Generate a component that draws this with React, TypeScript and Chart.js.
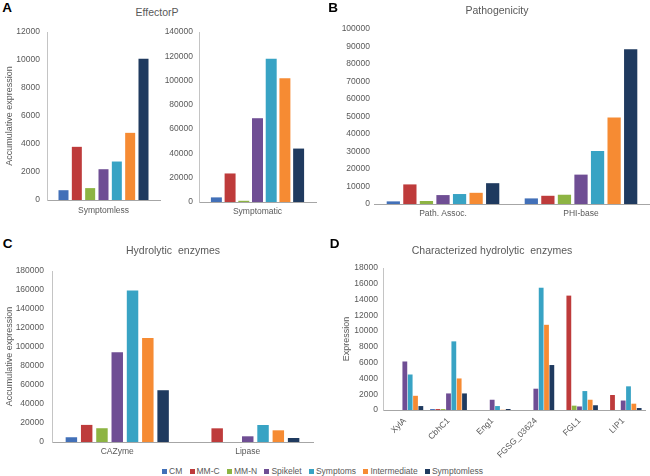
import React, { useEffect, useRef } from "react";
import { Chart, registerables } from "chart.js";

Chart.register(...registerables);

const FONT = "'Liberation Sans', Arial, sans-serif";
const TEXT = "#595959";

const SERIES = ["CM", "MM-C", "MM-N", "Spikelet", "Symptoms", "Intermediate", "Symptomless"];
const COLORS = ["#4270B8", "#BE3B3B", "#8DB443", "#6F4E94", "#38A3C4", "#F68B33", "#1F3A5F"];

// Panel A (EffectorP) – values per series
const effectorLeftCats = ["Symptomless"];
const effectorSymptomless = [700, 3800, 850, 2200, 2750, 4800, 10100];
const effectorRightCats = ["Symptomatic"];
const effectorSymptomatic = [3800, 23500, 1000, 69000, 118000, 102000, 44000];
const effectorLeftTicks = { max: 12000, step: 2000 };
const effectorRightTicks = { max: 140000, step: 20000 };

// Panel B (Pathogenicity)
const pathCats = ["Path. Assoc.", "PHI-base"];
const pathAssoc = [1500, 11200, 1700, 5100, 5700, 6400, 11900];
const phiBase = [3200, 4700, 5300, 16800, 30300, 49500, 88500];
const pathTicks = { max: 100000, step: 10000 };

// Panel C (Hydrolytic enzymes)
const hydroCats = ["CAZyme", "Lipase"];
const cazyme = [5000, 18000, 14500, 94500, 159500, 109500, 54500];
const lipase = [0, 14400, 0, 6000, 17900, 12300, 4200];
const hydroTicks = { max: 180000, step: 20000 };

// Panel D (Characterized hydrolytic enzymes)
const enzymeCats = ["XylA", "CbhC1", "Eng1", "FGSG_03624", "FGL1", "LIP1"];
const xylA = [0, 0, 0, 6150, 4500, 1800, 500];
const cbhC1 = [120, 120, 120, 2100, 8700, 4000, 2100];
const eng1 = [0, 0, 0, 1300, 500, 30, 130];
const fgsg03624 = [0, 0, 0, 2700, 15500, 10800, 5700];
const fgl1 = [0, 14500, 550, 450, 2400, 1300, 600];
const lip1 = [0, 1900, 0, 1200, 3000, 800, 250];
const enzymeTicks = { max: 18000, step: 2000 };

type PanelProps = {
  categories: string[];
  values: number[][];
  left: number;
  top: number;
  width: number;
  height: number;
  yW: number;
  xH: number;
  padTop: number;
  padRight: number;
  yMax: number;
  yStep: number;
  catPct: number;
  barPct: number;
  yPad: number;
  xPad: number;
  yBorder?: boolean;
  yTitle?: string;
  titlePad?: number;
  rot?: number;
};

function BarPanel(p: PanelProps) {
  const ref = useRef<HTMLCanvasElement>(null);
  useEffect(() => {
    const datasets = SERIES.map((name, i) => ({
      label: name,
      data: p.values.map((row) => row[i]),
      backgroundColor: COLORS[i],
      borderWidth: 0,
      categoryPercentage: p.catPct,
      barPercentage: p.barPct,
    }));
    const rot = p.rot ?? 0;
    const chart = new Chart(ref.current as HTMLCanvasElement, {
      type: "bar",
      data: { labels: p.categories, datasets },
      options: {
        animation: false,
        responsive: false,
        devicePixelRatio: 1,
        layout: { padding: { left: 0, top: p.padTop, right: p.padRight, bottom: 0 } },
        plugins: { legend: { display: false }, tooltip: { enabled: false } },
        scales: {
          x: {
            grid: { display: false, drawTicks: false },
            border: { display: true, color: "#A6A6A6", width: 1 },
            ticks: {
              color: TEXT,
              font: { family: FONT, size: 8.5 },
              padding: p.xPad,
              autoSkip: false,
              minRotation: rot,
              maxRotation: rot,
            },
            afterFit: (s: any) => {
              s.height = p.xH;
            },
          },
          y: {
            min: 0,
            max: p.yMax,
            grid: { display: false, drawTicks: false },
            border: { display: p.yBorder !== false, color: "#C4C4C4", width: 1 },
            ticks: {
              stepSize: p.yStep,
              color: TEXT,
              font: { family: FONT, size: 8.5 },
              padding: p.yPad,
              callback: (v: any) => String(v),
            },
            title: p.yTitle
              ? {
                  display: true,
                  text: p.yTitle,
                  color: TEXT,
                  font: { family: FONT, size: 9 },
                  padding: { top: p.titlePad ?? 4, bottom: 0 },
                }
              : { display: false },
            afterFit: (s: any) => {
              s.width = p.yW;
            },
          },
        },
      } as any,
    });
    return () => chart.destroy();
  }, []);
  return (
    <canvas
      ref={ref}
      width={p.width}
      height={p.height}
      style={{ position: "absolute", left: p.left, top: p.top, width: p.width, height: p.height }}
    />
  );
}

function Label(props: { x: number; y: number; text: string; size: number; bold?: boolean; color?: string }) {
  return (
    <div
      style={{
        position: "absolute",
        left: props.x,
        top: props.y,
        transform: "translate(-50%, -50%)",
        fontFamily: FONT,
        fontSize: props.size,
        fontWeight: props.bold ? "bold" : "normal",
        color: props.color ?? TEXT,
        whiteSpace: "pre",
        lineHeight: 1,
      }}
    >
      {props.text}
    </div>
  );
}

export default function App() {
  return (
    <div style={{ position: "absolute", left: 0, top: 0, width: 650, height: 476, background: "#fff", overflow: "hidden" }}>
      <BarPanel
        categories={effectorLeftCats}
        values={[effectorSymptomless]}
        left={0} top={20} width={165} height={205}
        yW={47} xH={25} padTop={10} padRight={5}
        yMax={effectorLeftTicks.max} yStep={effectorLeftTicks.step}
        catPct={0.826} barPct={0.75} yPad={7} xPad={6}
        yTitle="Accumulative expression" titlePad={4.6}
      />
      <BarPanel
        categories={effectorRightCats}
        values={[effectorSymptomatic]}
        left={160} top={20} width={160} height={205}
        yW={39} xH={23} padTop={12} padRight={4}
        yMax={effectorRightTicks.max} yStep={effectorRightTicks.step}
        catPct={0.82} barPct={0.8} yPad={6} xPad={4.2}
      />
      <BarPanel
        categories={pathCats}
        values={[pathAssoc, phiBase]}
        left={320} top={20} width={330} height={205}
        yW={54} xH={21} padTop={8} padRight={0}
        yMax={pathTicks.max} yStep={pathTicks.step}
        catPct={0.84} barPct={0.8} yPad={4} xPad={5} yBorder={false}
      />
      <BarPanel
        categories={hydroCats}
        values={[cazyme, lipase]}
        left={0} top={255} width={320} height={205}
        yW={52} xH={18} padTop={16} padRight={7}
        yMax={hydroTicks.max} yStep={hydroTicks.step}
        catPct={0.82} barPct={0.75} yPad={8} xPad={5}
        yTitle="Accumulative expression" titlePad={4}
      />
      <BarPanel
        categories={enzymeCats}
        values={[xylA, cbhC1, eng1, fgsg03624, fgl1, lip1]}
        left={320} top={255} width={330} height={210}
        yW={63} xH={55} padTop={13} padRight={5}
        yMax={enzymeTicks.max} yStep={enzymeTicks.step}
        catPct={0.855} barPct={0.9} yPad={5} xPad={6}
        yTitle="Expression" titlePad={21.6} rot={45}
      />

      <Label x={7} y={8} text="A" size={13.5} bold color="#000" />
      <Label x={157} y={12} text="EffectorP" size={10.5} />
      <Label x={333} y={7.5} text="B" size={13.5} bold color="#000" />
      <Label x={497} y={10} text="Pathogenicity" size={10.5} />
      <Label x={7.5} y={244} text="C" size={13.5} bold color="#000" />
      <Label x={173} y={250} text="Hydrolytic  enzymes" size={10.5} />
      <Label x={334.5} y={243.5} text="D" size={13.5} bold color="#000" />
      <Label x={492} y={250} text="Characterized hydrolytic  enzymes" size={10.5} />

      <div
        style={{
          position: "absolute",
          left: 162,
          top: 465,
          width: 321,
          height: 12,
          display: "flex",
          justifyContent: "space-between",
          alignItems: "center",
          fontFamily: FONT,
          fontSize: 8.5,
          color: TEXT,
          whiteSpace: "nowrap",
        }}
      >
        {SERIES.map((s, i) => (
          <div key={s} style={{ display: "flex", alignItems: "center" }}>
            <span style={{ display: "inline-block", width: 5, height: 5, background: COLORS[i], marginRight: 2 }} />
            <span>{s}</span>
          </div>
        ))}
      </div>
    </div>
  );
}
